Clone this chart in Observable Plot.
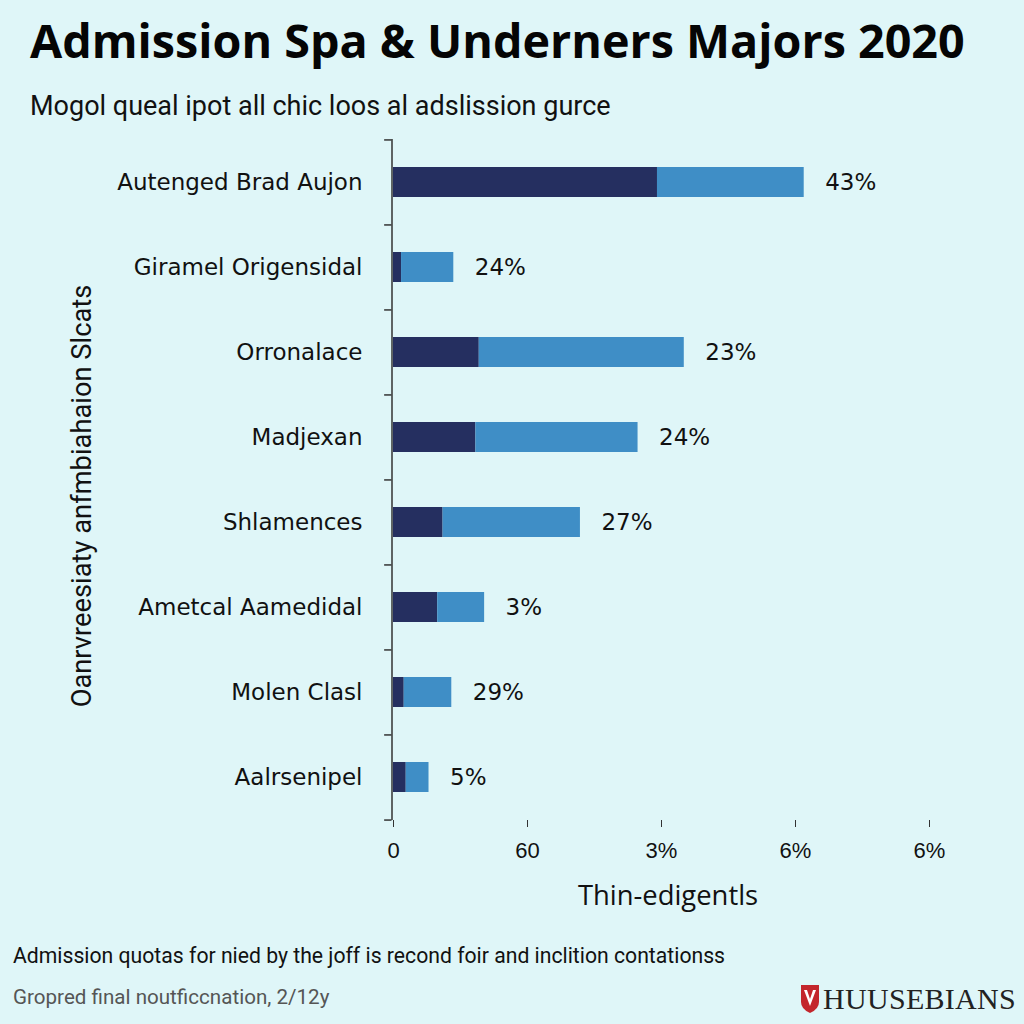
<!DOCTYPE html>
<html>
<head>
<meta charset="utf-8">
<script src="https://cdn.jsdelivr.net/npm/d3@7"></script>
<script src="https://cdn.jsdelivr.net/npm/@observablehq/plot@0.6"></script>
<style>
  html, body { margin: 0; padding: 0; }
  body { width: 1024px; height: 1024px; background: #dff6f8; position: relative; overflow: hidden; font-family: "Open Sans", sans-serif; color: #111; }
  .abs { position: absolute; white-space: nowrap; }
  #title { left: 30px; top: 8px; font-family: "Open Sans"; font-weight: 700; font-size: 46.7px; line-height: 64px; color: #050505; }
  #subtitle { left: 30px; top: 90px; font-family: Roboto; font-size: 27px; color: #111; }
  #ytitle { left: 82px; top: 496px; font-family: Roboto; font-size: 27.3px; color: #111; transform: translate(-50%, -50%) rotate(-90deg); }
  #xtitle { left: 668px; top: 876px; transform: translateX(-50%); font-family: "Open Sans"; font-weight: 500; font-size: 27.4px; color: #111; }
  #caption { left: 13px; top: 943px; font-family: Roboto; font-size: 21.2px; color: #111; }
  #source { left: 13px; top: 985px; font-family: Roboto; font-size: 20.6px; color: #555; }
  #logo { left: 800px; top: 982px; display: flex; align-items: center; }
  #logo span { font-family: "Liberation Serif"; font-size: 30px; color: #222; margin-left: 3px; letter-spacing: 0.3px; }
  #chart { position: absolute; left: 0; top: 130px; }
</style>
</head>
<body>
<div id="title" class="abs">Admission Spa &amp; Underners Majors 2020</div>
<div id="subtitle" class="abs">Mogol queal ipot all chic loos al adslission gurce</div>
<div id="ytitle" class="abs">Oanrvreesiaty anfmbiahaion Slcats</div>
<div id="chart"></div>
<div id="xtitle" class="abs">Thin-edigentls</div>
<div id="caption" class="abs">Admission quotas for nied by the joff is recond foir and inclition contationss</div>
<div id="source" class="abs">Gropred final noutficcnation, 2/12y</div>
<div id="logo" class="abs">
  <svg width="20" height="30" viewBox="0 0 20 30">
    <path d="M1 1 H19 V18 Q19 25 10 29 Q1 25 1 18 Z" fill="#c3262c"/>
    <path d="M4 6 L10 22 L16 6 L13 6 L10 15 L7 6 Z" fill="#ffffff"/>
  </svg>
  <span>HUUSEBIANS</span>
</div>
<script>
const categories = ["Autenged Brad Aujon", "Giramel Origensidal", "Orronalace", "Madjexan", "Shlamences", "Ametcal Aamedidal", "Molen Clasl", "Aalrsenipel"];
const darkValues = [39.4, 1.2, 12.8, 12.3, 7.4, 6.6, 1.6, 1.9];
const lightValues = [21.9, 7.8, 30.6, 24.2, 20.5, 7.0, 7.1, 3.4];
const valueLabels = ["43%", "24%", "23%", "24%", "27%", "3%", "29%", "5%"];
const xTicks = [0, 20, 40, 60, 80];
const xTickLabels = ["0", "60", "3%", "6%", "6%"];
const segments = ["dark", "light"];
const segmentColors = ["#252f60", "#3f8ec6"];

const rows = [];
categories.forEach((c, i) => {
  rows.push({cat: c, seg: "dark", value: darkValues[i]});
  rows.push({cat: c, seg: "light", value: lightValues[i]});
});
const totals = categories.map((c, i) => ({cat: c, total: darkValues[i] + lightValues[i], label: valueLabels[i]}));

const height = 790, marginTop = 9, marginBottom = 100;
const step = (height - marginTop - marginBottom) / categories.length;

const chart = Plot.plot({
  width: 1024,
  height,
  marginTop,
  marginBottom,
  marginLeft: 393,
  marginRight: 95,
  style: {background: "transparent", fontFamily: "DejaVu Sans", color: "#111"},
  x: {domain: [0, 80]},
  y: {domain: categories, paddingInner: 0.65, paddingOuter: 0.325},
  color: {domain: segments, range: segmentColors},
  marks: [
    Plot.barX(rows, {y: "cat", x: "value", fill: "seg", order: segments}),
    Plot.ruleX([0], {stroke: "#333", strokeWidth: 1.5, dx: -1.5}),
    Plot.ruleY(categories, {y: d => d, x1: -1.1, x2: 0, dx: -1.5, dy: -step / 2, stroke: "#333", strokeWidth: 1.5}),
    Plot.ruleY(categories.slice(-1), {y: d => d, x1: -1.1, x2: 0, dx: -1.5, dy: step / 2, stroke: "#333", strokeWidth: 1.5}),
    Plot.text(totals, {y: "cat", x: "total", text: "label", dx: 21, textAnchor: "start", fontSize: 23, fill: "#111", fontFamily: "DejaVu Sans"}),
    Plot.axisY({tickSize: 0, tickPadding: 31, fontSize: 23, label: null, fill: "#111", fontFamily: "DejaVu Sans"}),
    Plot.axisX({ticks: xTicks, tickFormat: (d) => xTickLabels[xTicks.indexOf(d)], tickSize: 7, tickPadding: 15, fontSize: 22, label: null, fontFamily: "Liberation Sans", stroke: "#333", fill: "#111"})
  ]
});
document.getElementById("chart").appendChild(chart);
</script>
</body>
</html>
